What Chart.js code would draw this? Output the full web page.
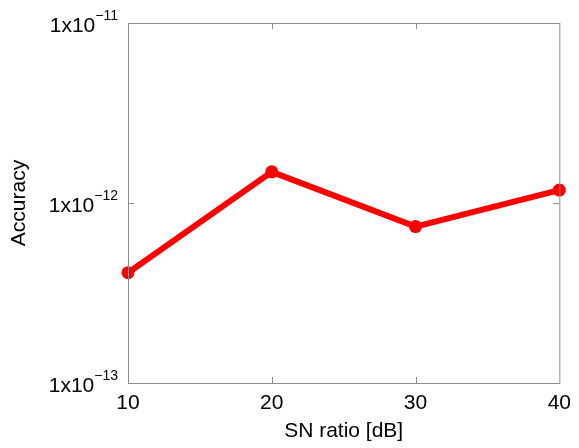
<!DOCTYPE html>
<html>
<head>
<meta charset="utf-8">
<script src="https://cdn.jsdelivr.net/npm/chart.js@4/dist/chart.umd.min.js"></script>
<style>
  html, body { margin: 0; padding: 0; background: #fff; }
  #wrap { width: 579px; height: 448px; }
</style>
</head>
<body>
<div id="wrap"><canvas id="chart" width="579" height="448"></canvas></div>
<script>
const snRatio = [10, 20, 30, 40];
const accuracy = [4.1e-13, 1.49e-12, 7.4e-13, 1.18e-12];
const xTicks = [10, 20, 30, 40];
const yTicks = [1e-13, 1e-12, 1e-11];
const yTickExponents = ["\u221213", "\u221212", "\u221211"];

const FONT = "'Liberation Sans', Arial, sans-serif";

// box around the plot with small inward ticks, plus the 1x10^n labels
const frameAndLabels = {
  id: "frameAndLabels",
  afterDraw(chart) {
    const { ctx, chartArea: a, scales } = chart;
    const x = scales.x, y = scales.y;
    const tick = 6;
    ctx.save();
    ctx.strokeStyle = "#8c8c8c";
    ctx.lineWidth = 1;
    ctx.strokeRect(a.left + 0.5, a.top + 0.5, a.right - a.left, a.bottom - a.top);
    ctx.beginPath();
    for (const v of xTicks.slice(1, -1)) {
      const px = Math.round(x.getPixelForValue(v)) + 0.5;
      ctx.moveTo(px, a.bottom); ctx.lineTo(px, a.bottom - tick);
      ctx.moveTo(px, a.top); ctx.lineTo(px, a.top + tick);
    }
    for (const v of yTicks.slice(1, -1)) {
      const py = Math.round(y.getPixelForValue(v)) + 0.5;
      ctx.moveTo(a.left, py); ctx.lineTo(a.left + tick, py);
      ctx.moveTo(a.right, py); ctx.lineTo(a.right - tick, py);
    }
    ctx.stroke();

    ctx.fillStyle = "#000";
    ctx.textBaseline = "alphabetic";
    yTicks.forEach((v, i) => {
      const py = y.getPixelForValue(v);
      const right = a.left - 10;
      ctx.font = "14px " + FONT;
      ctx.textAlign = "right";
      const expText = yTickExponents[i];
      const expW = ctx.measureText(expText).width;
      ctx.fillText(expText, right, py - 3);
      ctx.font = "21px " + FONT;
      ctx.fillText("1x10", right - expW, py + 9);
    });
    ctx.restore();
  }
};

new Chart(document.getElementById("chart"), {
  type: "line",
  data: {
    datasets: [{
      data: snRatio.map((s, i) => ({ x: s, y: accuracy[i] })),
      borderColor: "#ff0000",
      backgroundColor: "#ff0000",
      borderWidth: 6,
      pointRadius: 6.5,
      pointBorderWidth: 0,
      tension: 0,
      clip: false,
    }],
  },
  options: {
    responsive: false,
    animation: false,
    events: [],
    layout: { padding: { top: 23, right: 16, left: 0, bottom: 0 } },
    plugins: { legend: { display: false }, tooltip: { enabled: false } },
    scales: {
      x: {
        type: "linear",
        min: 10,
        max: 40,
        afterBuildTicks: (s) => { s.ticks = xTicks.map((v) => ({ value: v })); },
        afterFit: (s) => { s.height = 65; },
        grid: { display: false, drawTicks: false },
        border: { display: false },
        ticks: { color: "#000", padding: 8, font: { family: FONT, size: 21 } },
        title: {
          display: true,
          text: "SN ratio [dB]",
          color: "#000",
          font: { family: FONT, size: 21 },
          padding: { top: 0, bottom: 4 },
        },
      },
      y: {
        type: "logarithmic",
        min: 1e-13,
        max: 1e-11,
        afterBuildTicks: (s) => { s.ticks = yTicks.map((v) => ({ value: v })); },
        afterFit: (s) => { s.width = 128; },
        grid: { display: false, drawTicks: false },
        border: { display: false },
        ticks: { display: false },
        title: {
          display: true,
          text: "Accuracy",
          color: "#000",
          font: { family: FONT, size: 21 },
          padding: { top: 7, bottom: 0 },
        },
      },
    },
  },
  plugins: [frameAndLabels],
});
</script>
</body>
</html>
